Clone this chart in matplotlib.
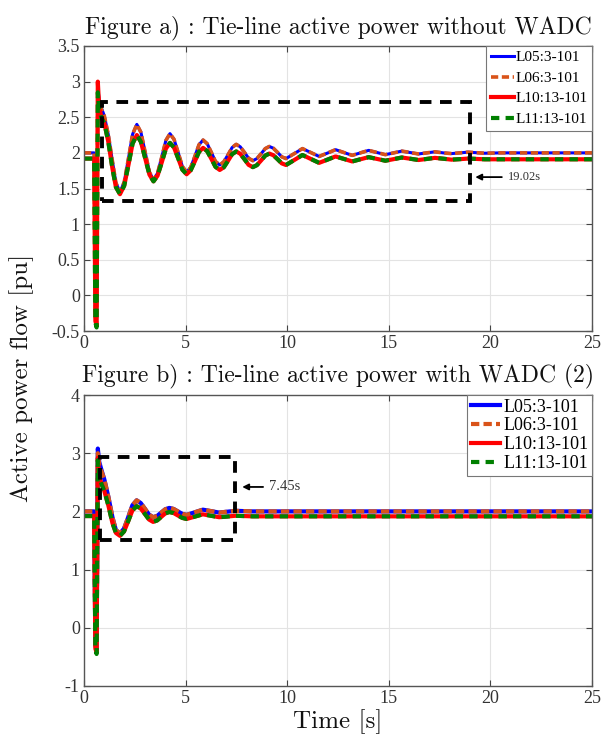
import matplotlib
matplotlib.use("Agg")
import matplotlib.pyplot as plt
from matplotlib.patches import Rectangle

plt.rcParams['axes.unicode_minus'] = False
plt.rcParams['font.family'] = ['Liberation Serif', 'DejaVu Serif']

# ---------------- data: Figure a (without WADC) ----------------
t_a = [0, 0.5, 0.56, 0.62, 0.68, 0.75, 0.87, 1.0, 1.2, 1.4, 1.57, 1.77,
       1.98, 2.19, 2.39, 2.60, 2.80, 3.01, 3.22, 3.42, 3.62, 3.83, 4.03, 4.23,
       4.43, 4.64, 4.84, 5.05, 5.25, 5.46, 5.66, 5.86, 6.06, 6.27, 6.47, 6.68,
       6.88, 7.09, 7.29, 7.49, 7.69, 7.90, 8.10, 8.31, 8.51, 8.72, 8.92, 9.12,
       9.32, 9.53, 9.73, 9.94, 10.35, 10.75, 11.16, 11.57, 11.98, 12.38, 12.79,
       13.20, 13.60, 14.01, 14.42, 14.83, 15.24, 15.64, 16.05, 16.46, 16.87,
       17.27, 17.68, 18.09, 18.50, 18.90, 19.72, 20.5, 25]

l05_a = [2.0, 2.0, -0.30, -0.38, 2.90, 2.75, 2.62, 2.52, 2.25, 1.88, 1.58, 1.45,
         1.59, 1.925, 2.26, 2.40, 2.29, 2.01, 1.73, 1.62, 1.715, 1.945, 2.175, 2.27,
         2.19, 2.0, 1.81, 1.73, 1.795, 1.955, 2.115, 2.18, 2.13, 2.005, 1.88, 1.83,
         1.875, 1.975, 2.075, 2.12, 2.085, 2.005, 1.925, 1.89, 1.92, 1.99, 2.06, 2.09,
         2.065, 2.005, 1.945, 1.92, 1.99, 2.06, 2.005, 1.95, 1.997, 2.045, 2.005,
         1.965, 2.0, 2.035, 2.005, 1.975, 2.0, 2.025, 2.005, 1.985, 2.0,
         2.015, 2.0, 1.99, 2.0, 2.01, 1.995, 2.0, 2.0]

l06_a = [2.0, 2.0, -0.30, -0.38, 2.85, 2.72, 2.60, 2.52, 2.25, 1.88, 1.58, 1.45,
         1.59, 1.925, 2.26, 2.40, 2.29, 2.01, 1.73, 1.62, 1.715, 1.945, 2.175, 2.27,
         2.19, 2.0, 1.81, 1.73, 1.795, 1.955, 2.115, 2.18, 2.13, 2.005, 1.88, 1.83,
         1.875, 1.975, 2.075, 2.12, 2.085, 2.005, 1.925, 1.89, 1.92, 1.99, 2.06, 2.09,
         2.065, 2.005, 1.945, 1.92, 1.99, 2.06, 2.005, 1.95, 1.997, 2.045, 2.005,
         1.965, 2.0, 2.035, 2.005, 1.975, 2.0, 2.025, 2.005, 1.985, 2.0,
         2.015, 2.0, 1.99, 2.0, 2.01, 1.995, 2.0, 2.0]

l10_a = [1.92, 1.92, -0.36, -0.42, 3.00, 2.62, 2.50, 2.42, 2.15, 1.78, 1.52, 1.42,
         1.54, 1.835, 2.13, 2.25, 2.155, 1.925, 1.695, 1.60, 1.68, 1.87, 2.06, 2.14,
         2.075, 1.92, 1.765, 1.70, 1.755, 1.885, 2.015, 2.07, 2.025, 1.915, 1.805, 1.76,
         1.798, 1.89, 1.982, 2.02, 1.988, 1.91, 1.832, 1.80, 1.828, 1.895, 1.962, 1.99,
         1.967, 1.91, 1.853, 1.83, 1.90, 1.97, 1.915, 1.86, 1.905, 1.95, 1.915,
         1.88, 1.91, 1.94, 1.915, 1.89, 1.912, 1.935, 1.918, 1.90, 1.915,
         1.93, 1.918, 1.905, 1.912, 1.92, 1.91, 1.91, 1.91]

l11_a = [1.92, 1.92, -0.38, -0.45, 2.85, 2.60, 2.48, 2.42, 2.15, 1.78, 1.52, 1.42,
         1.54, 1.835, 2.13, 2.25, 2.155, 1.925, 1.695, 1.60, 1.68, 1.87, 2.06, 2.14,
         2.075, 1.92, 1.765, 1.70, 1.755, 1.885, 2.015, 2.07, 2.025, 1.915, 1.805, 1.76,
         1.798, 1.89, 1.982, 2.02, 1.988, 1.91, 1.832, 1.80, 1.828, 1.895, 1.962, 1.99,
         1.967, 1.91, 1.853, 1.83, 1.90, 1.97, 1.915, 1.86, 1.905, 1.95, 1.915,
         1.88, 1.91, 1.94, 1.915, 1.89, 1.912, 1.935, 1.918, 1.90, 1.915,
         1.93, 1.918, 1.905, 1.912, 1.92, 1.91, 1.91, 1.91]

# ---------------- data: Figure b (with WADC) ----------------
t_b = [0, 0.5, 0.56, 0.62, 0.68, 0.75, 0.87, 1.0, 1.2, 1.4, 1.57, 1.77,
       1.97, 2.18, 2.38, 2.59, 2.79, 3.0, 3.2, 3.4, 3.6, 3.8, 4.0, 4.2,
       4.41, 4.62, 4.84, 5.05, 5.45, 5.85, 6.25, 6.65, 7.05, 7.45, 8.3, 25]

l05_b = [2.0, 2.0, -0.30, -0.38, 3.08, 2.85, 2.70, 2.55, 2.25, 1.90, 1.68, 1.62,
         1.705, 1.905, 2.105, 2.19, 2.145, 2.045, 1.945, 1.90, 1.923, 1.98, 2.037, 2.06,
         2.042, 2.0, 1.958, 1.94, 1.985, 2.03, 2.005, 1.98, 1.995, 2.01, 2.0, 2.0]

l06_b = [2.0, 2.0, -0.30, -0.38, 3.00, 2.80, 2.68, 2.55, 2.25, 1.90, 1.68, 1.62,
         1.705, 1.905, 2.105, 2.19, 2.145, 2.045, 1.945, 1.90, 1.923, 1.98, 2.037, 2.06,
         2.042, 2.0, 1.958, 1.94, 1.985, 2.03, 2.005, 1.98, 1.995, 2.01, 2.0, 2.0]

l10_b = [1.92, 1.92, -0.36, -0.42, 2.92, 2.60, 2.47, 2.35, 2.10, 1.80, 1.63, 1.58,
         1.655, 1.835, 2.015, 2.09, 2.05, 1.955, 1.86, 1.82, 1.845, 1.905, 1.965, 1.99,
         1.972, 1.93, 1.888, 1.87, 1.91, 1.95, 1.925, 1.90, 1.912, 1.925, 1.915, 1.915]

l11_b = [1.92, 1.92, -0.38, -0.45, 2.88, 2.58, 2.46, 2.35, 2.10, 1.80, 1.63, 1.58,
         1.655, 1.835, 2.015, 2.09, 2.05, 1.955, 1.86, 1.82, 1.845, 1.905, 1.965, 1.99,
         1.972, 1.93, 1.888, 1.87, 1.91, 1.95, 1.925, 1.90, 1.912, 1.925, 1.915, 1.915]

labels = ['L05:3-101', 'L06:3-101', 'L10:13-101', 'L11:13-101']
titles = ['Figure a) : Tie-line active power without WADC',
          'Figure b) : Tie-line active power with WADC (2)']
xticks = [0, 5, 10, 15, 20, 25]
yticks_a = [-0.5, 0, 0.5, 1, 1.5, 2, 2.5, 3, 3.5]
yticks_b = [-1, 0, 1, 2, 3, 4]
settle_a = 19.02
settle_b = 7.45

colors = ['#0000FF', '#D95319', '#FF0000', '#008000']
styles = ['-', (0, (2.0, 1.0)), '-', (0, (2.0, 1.5))]

fig = plt.figure(figsize=(6.12, 7.48), dpi=100)
ax1 = fig.add_axes([84/612, 1-331/748, 508/612, 285/748])
ax2 = fig.add_axes([84/612, 1-686/748, 508/612, 291/748])

TXT = '#333333'


def style_axes(ax, yticks, title):
    ax.set_xlim(0, 25)
    ax.set_ylim(yticks[0], yticks[-1])
    ax.set_xticks(xticks)
    ax.set_yticks(yticks)
    ax.set_xticklabels([f'{v:g}' for v in xticks])
    ax.set_yticklabels([f'{v:g}' for v in yticks])
    ax.grid(True, color='#e3e3e3', lw=0.8)
    ax.set_axisbelow(True)
    ax.tick_params(direction='in', top=True, right=True, length=4,
                   labelsize=13, colors='#444444', labelcolor=TXT, pad=3)
    for s in ax.spines.values():
        s.set_color('#555555')
        s.set_linewidth(1.0)
    ax.set_title(title, fontsize=17, family='cmr10', pad=9, color='#111111')


# Figure a
series_a = [l05_a, l06_a, l10_a, l11_a]
lws_a = [2.2, 2.6, 3.0, 3.0]
for y, c, ls, lw, lab in zip(series_a, colors, styles, lws_a, labels):
    ax1.plot(t_a, y, color=c, ls=ls, lw=lw, label=lab)
style_axes(ax1, yticks_a, titles[0])
ax1.add_patch(Rectangle((0.87, 1.33), settle_a - 0.87, 2.72 - 1.33, fill=False,
                        ec='black', lw=2.8, ls=(0, (3, 2.2)), zorder=5))
ax1.annotate('', xy=(settle_a + 0.1, 1.66), xytext=(20.7, 1.66),
             arrowprops=dict(arrowstyle='-|>', color='black', lw=1.3,
                             mutation_scale=9), zorder=6)
ax1.text(20.85, 1.66, f'{settle_a}s', fontsize=9, va='center', ha='left', color=TXT)
leg1 = ax1.legend(loc='upper right', fontsize=11, handlelength=1.5,
                  handletextpad=0.1, borderpad=0.3, labelspacing=0.45,
                  fancybox=False, framealpha=1, edgecolor='#777777',
                  borderaxespad=0.0)
leg1.get_frame().set_linewidth(0.8)

# Figure b
series_b = [l05_b, l06_b, l10_b, l11_b]
lws_b = [3.0, 3.0, 3.0, 3.0]
for y, c, ls, lw, lab in zip(series_b, colors, styles, lws_b, labels):
    ax2.plot(t_b, y, color=c, ls=ls, lw=lw, label=lab)
style_axes(ax2, yticks_b, titles[1])
ax2.add_patch(Rectangle((0.8, 1.51), settle_b - 0.8, 2.93 - 1.51, fill=False,
                        ec='black', lw=2.8, ls=(0, (3, 2.2)), zorder=5))
ax2.annotate('', xy=(settle_b + 0.2, 2.42), xytext=(8.95, 2.42),
             arrowprops=dict(arrowstyle='-|>', color='black', lw=1.3,
                             mutation_scale=9), zorder=6)
ax2.text(9.1, 2.42, f'{settle_b}s', fontsize=10.5, va='center', ha='left', color=TXT)
leg2 = ax2.legend(loc='upper right', fontsize=13, handlelength=1.6,
                  handletextpad=0.2, borderpad=0.2, labelspacing=0.1,
                  fancybox=False, framealpha=1, edgecolor='#777777',
                  borderaxespad=0.0)
leg2.get_frame().set_linewidth(0.8)

fig.text(22/612, 1 - 378/748, 'Active power flow [pu]', rotation=90,
         fontsize=18, family='cmr10', ha='center', va='center', color='#111111')
fig.text(338/612, 1 - 722/748, 'Time [s]', fontsize=18, family='cmr10',
         ha='center', va='center', color='#111111')

fig.savefig('out.png', dpi=100)
